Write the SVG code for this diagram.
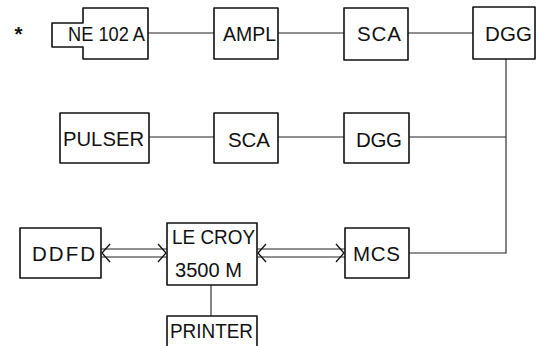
<svg xmlns="http://www.w3.org/2000/svg" width="537" height="346" viewBox="0 0 537 346">
<style>
.box{fill:none;stroke:#111;stroke-width:1.6;stroke-linejoin:round}
.ln{fill:none;stroke:#222;stroke-width:1.1}
.ah{fill:none;stroke:#111;stroke-width:1.3}
text{font-family:"Liberation Sans",Arial,sans-serif;font-size:20.5px;fill:#111}
</style>
<rect width="537" height="346" fill="#fff"/>
<g id="connectors">
<line class="ln" x1="148" y1="33" x2="214" y2="33"/>
<line class="ln" x1="278" y1="33" x2="344" y2="33"/>
<line class="ln" x1="408" y1="33" x2="473" y2="33"/>
<line class="ln" x1="149" y1="137" x2="214" y2="137"/>
<line class="ln" x1="278" y1="137" x2="344" y2="137"/>
<line class="ln" x1="409" y1="137" x2="506" y2="137"/>
<polyline class="ln" points="506,59 506,253 409,253"/>
<line class="ln" x1="211" y1="285" x2="211" y2="316"/>
<line class="ln" x1="101" y1="249" x2="167" y2="249"/>
<line class="ln" x1="101" y1="257" x2="167" y2="257"/>
<polyline class="ah" points="110,244 102,253 110,262"/>
<polyline class="ah" points="158,244 166,253 158,262"/>
<line class="ln" x1="257" y1="249" x2="345" y2="249"/>
<line class="ln" x1="257" y1="257" x2="345" y2="257"/>
<polyline class="ah" points="266,244 258,253 266,262"/>
<polyline class="ah" points="336,244 344,253 336,262"/>
</g>
<g id="star"><text x="18.5" y="41" text-anchor="middle" font-weight="bold" font-size="17">*</text></g>
<g id="ne102a">
<path class="box" d="M83,8 H148 V59 H83 V47 H52 V23 H83 Z"/>
<text x="68" y="41" textLength="77" lengthAdjust="spacingAndGlyphs">NE 102 A</text>
</g>
<g id="ampl">
<rect class="box" x="214" y="8" width="64" height="51"/>
<text x="223" y="41" textLength="53" lengthAdjust="spacingAndGlyphs">AMPL</text>
</g>
<g id="sca1">
<rect class="box" x="344" y="8" width="64" height="52"/>
<text x="357" y="41" textLength="44" lengthAdjust="spacing">SCA</text>
</g>
<g id="dgg1">
<rect class="box" x="473" y="7" width="62" height="52"/>
<text x="485" y="41" textLength="47" lengthAdjust="spacing">DGG</text>
</g>
<g id="pulser">
<rect class="box" x="60" y="113" width="89" height="50"/>
<text x="63" y="146" textLength="81" lengthAdjust="spacingAndGlyphs">PULSER</text>
</g>
<g id="sca2">
<rect class="box" x="214" y="113" width="64" height="50"/>
<text x="228" y="147" textLength="42" lengthAdjust="spacing">SCA</text>
</g>
<g id="dgg2">
<rect class="box" x="344" y="113" width="65" height="50"/>
<text x="356" y="147" textLength="46" lengthAdjust="spacing">DGG</text>
</g>
<g id="ddfd">
<rect class="box" x="20" y="228" width="81" height="50"/>
<text x="32" y="261" textLength="63" lengthAdjust="spacing">DDFD</text>
</g>
<g id="lecroy">
<rect class="box" x="167" y="223" width="90" height="62"/>
<text x="172" y="244" textLength="83" lengthAdjust="spacingAndGlyphs">LE CROY</text>
<text x="175" y="277" textLength="67" lengthAdjust="spacingAndGlyphs">3500 M</text>
</g>
<g id="mcs">
<rect class="box" x="345" y="228" width="64" height="50"/>
<text x="353" y="261" textLength="47" lengthAdjust="spacing">MCS</text>
</g>
<g id="printer">
<path class="box" d="M167,348 V316 H257 V348"/>
<text x="170" y="338" textLength="83" lengthAdjust="spacingAndGlyphs">PRINTER</text>
</g>
</svg>
